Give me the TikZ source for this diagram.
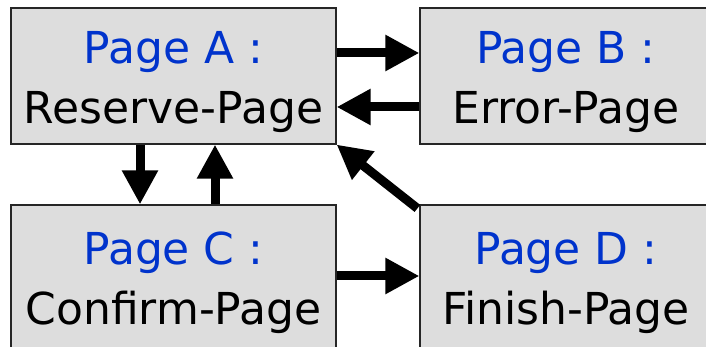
\documentclass[tikz,border=0pt]{standalone}
\usepackage{fontspec}
\setmainfont{DejaVu Sans}
\usetikzlibrary{arrows.meta}
\definecolor{pageblue}{RGB}{0,51,204}
\definecolor{pagegray}{RGB}{221,221,221}
\tikzset{
	>={Triangle[length=34pt,width=34pt]},
	pagebox/.style={
		rectangle,
		fill=pagegray,
		draw=black!85, line width=1.2pt,
		align=center,
		font=\fontsize{44}{60}\selectfont,
		inner sep=0pt},
	widebox/.style={pagebox, minimum width=325pt},
	narrowbox/.style={pagebox, minimum width=292pt},
	flow/.style={draw, ->, line width=9pt},
}
% blue first line, with a strut that pushes the text a bit lower
\newcommand{\pagetitle}[1]{\rule{0pt}{45pt}\textcolor{pageblue}{#1}}

\begin{document}
\begin{tikzpicture}[x=1pt, y=1pt]
	\clip (0,0) rectangle (706,347);

	\node[widebox, minimum height=136pt] (pageA) at (173.5,271) {\pagetitle{Page A :}\\Reserve-Page};
	\node[narrowbox, minimum height=136pt] (pageB) at (566,271) {\pagetitle{Page B :}\\Error-Page};
	\node[widebox, minimum height=144pt] (pageC) at (173.5,70) {\pagetitle{Page C :}\\Confirm-Page};
	\node[narrowbox, minimum height=144pt] (pageD) at (566,70) {\pagetitle{Page D :}\\Finish-Page};

	% the arrows between the pages
	\draw[flow] ([yshift=23]pageA.east) -- ([yshift=23]pageA.east -| pageB.west);
	\draw[flow] ([yshift=-31]pageB.west) -- ([yshift=-31]pageB.west -| pageA.east);
	\draw[flow] ([xshift=-33.5]pageA.south) -- ([xshift=-33.5]pageA.south |- pageC.north);
	\draw[flow] ([xshift=41.5]pageC.north) -- ([xshift=41.5]pageC.north |- pageA.south);
	\draw[flow] ([xshift=-2,yshift=-4]pageD.north west) -- (pageA.south east);
	\draw[flow] ([yshift=1]pageC.east) -- ([yshift=1]pageC.east -| pageD.west);
\end{tikzpicture}
\end{document}
